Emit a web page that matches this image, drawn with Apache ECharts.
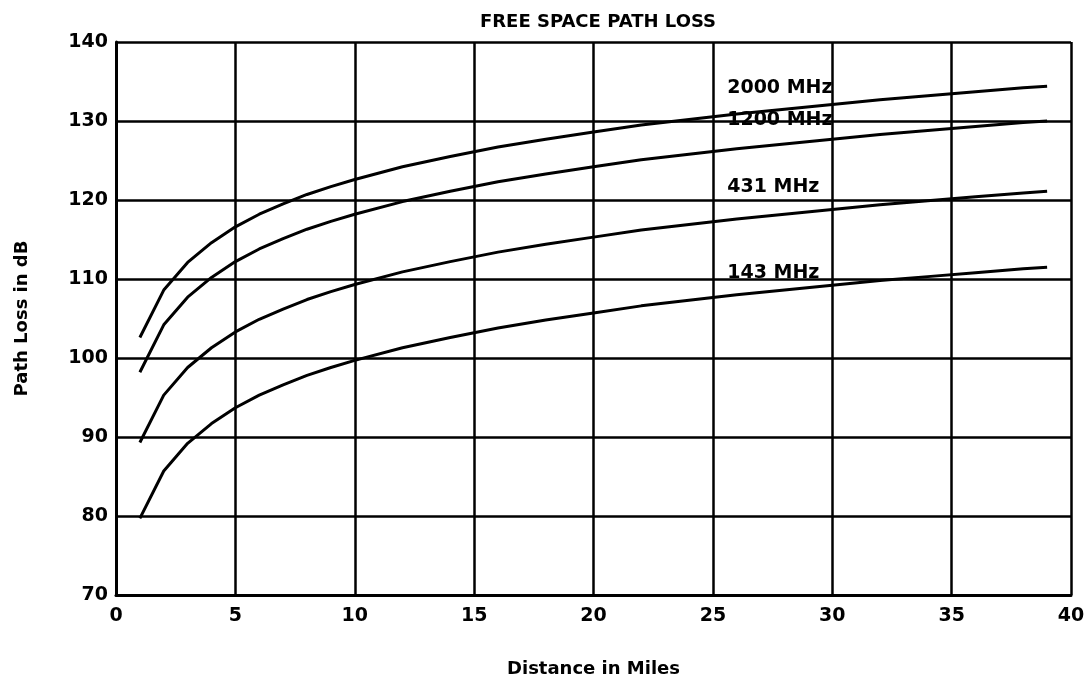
<!DOCTYPE html>
<html>
<head>
<meta charset="utf-8">
<script src="https://cdn.jsdelivr.net/npm/echarts@6/dist/echarts.min.js"></script>
<style>html,body{margin:0;padding:0;background:#fff}#c{width:1092px;height:683px}</style>
</head>
<body>
<div id="c"></div>
<script>
const miles = [1,2,3,4,5,6,7,8,9,10,12,14,16,18,20,22,24,26,28,30,32,34,36,38,39];
const loss143 = [79.7,85.7,89.2,91.7,93.7,95.3,96.6,97.8,98.8,99.7,101.3,102.6,103.8,104.8,105.7,106.6,107.3,108.0,108.6,109.2,109.8,110.3,110.8,111.3,111.5];
const loss431 = [89.3,95.3,98.8,101.3,103.3,104.9,106.2,107.4,108.4,109.3,110.9,112.2,113.4,114.4,115.3,116.2,116.9,117.6,118.2,118.8,119.4,119.9,120.4,120.9,121.1];
const loss1200 = [98.2,104.2,107.7,110.2,112.2,113.8,115.1,116.3,117.3,118.2,119.8,121.1,122.3,123.3,124.2,125.1,125.8,126.5,127.1,127.7,128.3,128.8,129.3,129.8,130.0];
const loss2000 = [102.6,108.6,112.1,114.6,116.6,118.2,119.5,120.7,121.7,122.6,124.2,125.5,126.7,127.7,128.6,129.5,130.2,130.9,131.5,132.1,132.7,133.2,133.7,134.2,134.4];
const seriesNames = ['143 MHz','431 MHz','1200 MHz','2000 MHz'];
const labelCoords = [[25.6,110.8],[25.6,121.7],[25.6,130.1],[25.6,134.2]];
const chartTitle = 'FREE SPACE PATH LOSS';
const xName = 'Distance in Miles';
const yName = 'Path Loss in dB';

const FONT = 'DejaVu Sans';
const allData = [loss143, loss431, loss1200, loss2000];

const chart = echarts.init(document.getElementById('c'), null, {renderer:'canvas'});
chart.setOption({
  backgroundColor:'#fff',
  animation:false,
  title:{text:chartTitle,left:593,top:8,textAlign:'center',
    textStyle:{fontFamily:FONT,fontWeight:'bold',fontSize:18,color:'#000'}},
  grid:{left:116,right:21,top:42,bottom:87,containLabel:false},
  xAxis:{type:'value',min:0,max:40,interval:5,
    name:xName,nameLocation:'middle',nameGap:65,
    nameTextStyle:{fontFamily:FONT,fontWeight:'bold',fontSize:18,color:'#000'},
    axisLine:{show:true,lineStyle:{color:'#000',width:3}},
    axisTick:{show:false},
    axisLabel:{fontFamily:FONT,fontWeight:'bold',fontSize:19,color:'#000',margin:12},
    splitLine:{show:true,lineStyle:{color:'#000',width:2.5}}},
  yAxis:{type:'value',min:70,max:140,interval:10,
    name:yName,nameLocation:'middle',nameGap:85,
    nameTextStyle:{fontFamily:FONT,fontWeight:'bold',fontSize:18,color:'#000'},
    axisLine:{show:true,lineStyle:{color:'#000',width:3}},
    axisTick:{show:false},
    axisLabel:{fontFamily:FONT,fontWeight:'bold',fontSize:19,color:'#000',margin:8},
    splitLine:{show:true,lineStyle:{color:'#000',width:2.5}}},
  series: seriesNames.map((n,i)=>({
    name:n,type:'line',showSymbol:false,symbol:'none',smooth:false,
    lineStyle:{color:'#000',width:3},
    data: miles.map((m,j)=>[m, allData[i][j]]),
    markPoint:{symbol:'circle',symbolSize:0,silent:true,
      data:[{coord:labelCoords[i],
        label:{show:true,position:'right',distance:0,formatter:n,
          fontFamily:FONT,fontWeight:'bold',fontSize:19,color:'#000'}}]}
  }))
});
</script>
</body>
</html>
